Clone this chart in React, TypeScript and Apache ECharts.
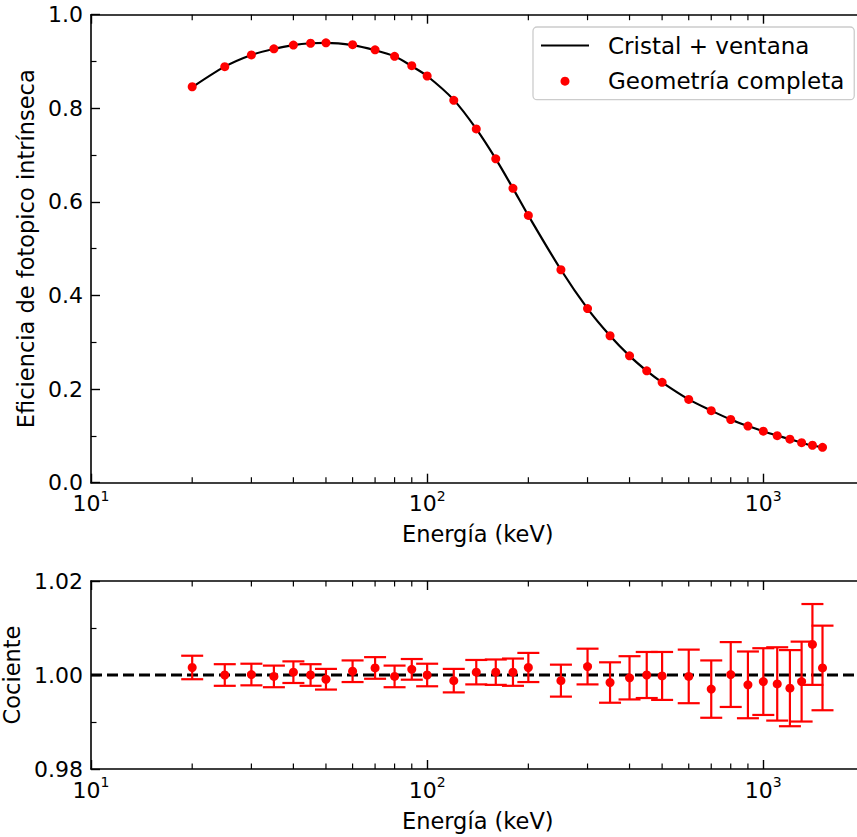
import React, { useEffect, useRef } from "react";
import * as echarts from "echarts";

// Energies (keV)
const energies = [
  20, 25, 30, 35, 40, 45, 50, 60, 70, 80, 90, 100, 120, 140, 160, 180, 200, 250,
  300, 350, 400, 450, 500, 600, 700, 800, 900, 1000, 1100, 1200, 1300, 1400, 1500,
];

// "Geometría completa" intrinsic photopeak efficiency
const geometryEff = [
  0.846, 0.889, 0.914, 0.927, 0.935, 0.939, 0.94, 0.936, 0.925, 0.911, 0.891,
  0.869, 0.817, 0.756, 0.692, 0.629, 0.571, 0.455, 0.372, 0.314, 0.271, 0.239,
  0.2145, 0.178, 0.154, 0.135, 0.121, 0.11, 0.1005, 0.093, 0.0855, 0.08, 0.0756,
];

// "Cristal + ventana" curve read at the same energies
const crystalEff = [
  0.845, 0.889, 0.914, 0.927, 0.935, 0.939, 0.94, 0.935, 0.924, 0.911, 0.89,
  0.869, 0.818, 0.756, 0.692, 0.629, 0.571, 0.455, 0.372, 0.314, 0.271, 0.239,
  0.2145, 0.178, 0.154, 0.135, 0.121, 0.11, 0.1005, 0.093, 0.0855, 0.0795, 0.0755,
];

// Ratio (Cociente) and its uncertainty
const ratio = [
  1.0016, 1.0, 1.0001, 0.9997, 1.0006, 1.0, 0.9991, 1.0008, 1.0015, 0.9997,
  1.0012, 1.0, 0.9988, 1.0006, 1.0006, 1.0006, 1.0016, 0.9988, 1.0018, 0.9984,
  0.9994, 1.0, 0.9998, 0.9997, 0.997, 1.0001, 0.9979, 0.9986, 0.9981, 0.9972,
  0.9986, 1.0065, 1.0015,
];
const ratioErr = [
  0.0025, 0.0023, 0.0023, 0.0023, 0.0023, 0.0023, 0.0022, 0.0023, 0.0023,
  0.0023, 0.0022, 0.0024, 0.0025, 0.0026, 0.0027, 0.0029, 0.0031, 0.0034,
  0.0038, 0.0043, 0.0046, 0.0049, 0.0051, 0.0057, 0.0061, 0.0069, 0.0071,
  0.0071, 0.0078, 0.0081, 0.0085, 0.0086, 0.009,
];

const minorXTicks = [20, 30, 40, 50, 60, 70, 80, 90, 200, 300, 400, 500, 600, 700, 800, 900];

const FONT = "DejaVu Sans";
const X_MIN = 10;
const X_MAX = 2000;

export default function App() {
  const ref = useRef<HTMLDivElement>(null);

  useEffect(() => {
    const chart = echarts.init(ref.current!, null, { renderer: "svg" });

    const logLabel = (v: number) => {
      const l = Math.log10(v);
      const e = Math.round(l);
      if (Math.abs(l - e) > 1e-6) return "";
      return `{b|10}{s|${e}}`;
    };

    const axisLine = { show: true, lineStyle: { color: "#000", width: 1.6 } };

    const xBottom = (gridIndex: number) => ({
      type: "log",
      logBase: 10,
      gridIndex,
      min: X_MIN,
      max: X_MAX,
      position: "bottom",
      name: "Energía (keV)",
      nameLocation: "middle",
      nameGap: 40,
      nameTextStyle: { fontFamily: FONT, fontSize: 22.5, color: "#000" },
      axisLine,
      axisTick: { show: true, inside: true, length: 9, lineStyle: { color: "#000", width: 1.4 } },
      axisLabel: {
        show: true,
        margin: 6,
        formatter: logLabel,
        rich: {
          b: { fontFamily: FONT, fontSize: 22, color: "#000", verticalAlign: "bottom", lineHeight: 26 },
          s: { fontFamily: FONT, fontSize: 14, color: "#000", verticalAlign: "top", lineHeight: 18 },
        },
      },
      splitLine: { show: false },
      minorTick: { show: false },
    });

    const xTop = (gridIndex: number) => ({
      type: "log",
      logBase: 10,
      gridIndex,
      min: X_MIN,
      max: X_MAX,
      position: "top",
      axisLine,
      axisTick: { show: true, inside: true, length: 9, lineStyle: { color: "#000", width: 1.4 } },
      axisLabel: { show: false },
      splitLine: { show: false },
    });

    const yAxis = (gridIndex: number, min: number, max: number, interval: number, digits: number, name: string, gap: number) => ({
      type: "value",
      gridIndex,
      min,
      max,
      interval,
      name,
      nameLocation: "middle",
      nameGap: gap,
      nameTextStyle: { fontFamily: FONT, fontSize: 22.5, color: "#000" },
      axisLine,
      axisTick: { show: true, inside: true, length: 9, lineStyle: { color: "#000", width: 1.4 } },
      minorTick: { show: true, splitNumber: 2, length: 5.5, lineStyle: { color: "#000", width: 1.2 } },
      axisLabel: {
        margin: 8,
        fontFamily: FONT,
        fontSize: 22,
        color: "#000",
        formatter: (v: number) => v.toFixed(digits),
      },
      splitLine: { show: false },
      minorSplitLine: { show: false },
    });

    const minorTickSeries = (xAxisIndex: number, yAxisIndex: number, yMin: number, yMax: number) => ({
      type: "custom",
      xAxisIndex,
      yAxisIndex,
      silent: true,
      clip: false,
      z: 5,
      data: minorXTicks.map((v) => [v, yMin]),
      renderItem: (params: any, api: any) => {
        const v = api.value(0);
        const pb = api.coord([v, yMin]);
        const pt = api.coord([v, yMax]);
        const style = { stroke: "#000", lineWidth: 1.2 };
        return {
          type: "group",
          children: [
            { type: "line", shape: { x1: pb[0], y1: pb[1], x2: pb[0], y2: pb[1] - 5.5 }, style },
            { type: "line", shape: { x1: pt[0], y1: pt[1], x2: pt[0], y2: pt[1] + 5.5 }, style },
          ],
        };
      },
    });

    const option: any = {
      animation: false,
      backgroundColor: "#fff",
      grid: [
        { left: 91, top: 14.7, right: -7.5, height: 468, outerBoundsMode: "none", containLabel: false },
        { left: 91, top: 581, right: -7.5, height: 188, outerBoundsMode: "none", containLabel: false },
      ],
      xAxis: [xBottom(0), xTop(0), xBottom(1), xTop(1)],
      yAxis: [
        yAxis(0, 0, 1, 0.2, 1, "Eficiencia de fotopico intrínseca", 52),
        yAxis(1, 0.98, 1.02, 0.02, 2, "Cociente", 66),
      ],
      legend: {
        orient: "vertical",
        left: 533,
        top: 27,
        data: [
          { name: "Cristal + ventana", icon: "path://M0,0H48V2.2H0Z", itemStyle: { color: "#000" } },
          { name: "Geometría completa", icon: "circle" },
        ],
        itemWidth: 48,
        itemHeight: 9,
        itemGap: 12.7,
        padding: [7, 10, 7, 8],
        borderColor: "#cccccc",
        borderWidth: 1.3,
        borderRadius: 4,
        backgroundColor: "rgba(255,255,255,0.8)",
        selectedMode: false,
        textStyle: { fontFamily: FONT, fontSize: 23, color: "#000", padding: [0, 0, 0, 14] },
      },
      series: [
        {
          type: "line",
          name: "Cristal + ventana",
          xAxisIndex: 0,
          yAxisIndex: 0,
          data: energies.map((e, i) => [e, crystalEff[i]]),
          symbol: "none",
          smooth: 0.3,
          lineStyle: { color: "#000", width: 2.2 },
          itemStyle: { color: "#000" },
          z: 2,
        },
        {
          type: "scatter",
          name: "Geometría completa",
          xAxisIndex: 0,
          yAxisIndex: 0,
          data: energies.map((e, i) => [e, geometryEff[i]]),
          symbolSize: 9,
          itemStyle: { color: "#ff0000", opacity: 1 },
          z: 3,
        },
        minorTickSeries(0, 0, 0, 1),
        {
          type: "line",
          name: "unity",
          xAxisIndex: 2,
          yAxisIndex: 1,
          data: [
            [X_MIN, 1],
            [X_MAX, 1],
          ],
          symbol: "none",
          silent: true,
          lineStyle: { color: "#000", width: 2.8, type: [11, 5] },
          z: 1,
        },
        {
          type: "custom",
          name: "errors",
          xAxisIndex: 2,
          yAxisIndex: 1,
          silent: true,
          z: 2,
          data: energies.map((e, i) => [e, ratio[i] - ratioErr[i], ratio[i] + ratioErr[i]]),
          renderItem: (params: any, api: any) => {
            const x = api.value(0);
            const lo = api.coord([x, api.value(1)]);
            const hi = api.coord([x, api.value(2)]);
            const style = { stroke: "#ff0000", lineWidth: 2.2 };
            const cap = 11;
            return {
              type: "group",
              children: [
                { type: "line", shape: { x1: lo[0], y1: lo[1], x2: hi[0], y2: hi[1] }, style },
                { type: "line", shape: { x1: lo[0] - cap, y1: lo[1], x2: lo[0] + cap, y2: lo[1] }, style },
                { type: "line", shape: { x1: hi[0] - cap, y1: hi[1], x2: hi[0] + cap, y2: hi[1] }, style },
              ],
            };
          },
        },
        {
          type: "scatter",
          name: "ratioPoints",
          xAxisIndex: 2,
          yAxisIndex: 1,
          data: energies.map((e, i) => [e, ratio[i]]),
          symbolSize: 9,
          itemStyle: { color: "#ff0000", opacity: 1 },
          z: 3,
        },
        minorTickSeries(2, 1, 0.98, 1.02),
      ],
    };

    chart.setOption(option);
    return () => chart.dispose();
  }, []);

  return (
    <div
      ref={ref}
      style={{ position: "fixed", left: 0, top: 0, width: 857, height: 837, background: "#fff" }}
    />
  );
}
